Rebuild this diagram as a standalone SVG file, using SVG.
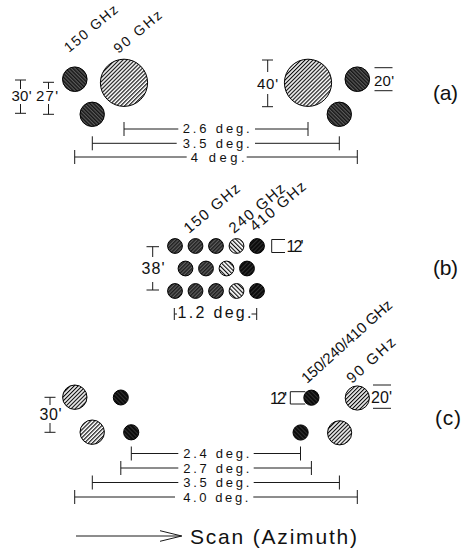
<svg xmlns="http://www.w3.org/2000/svg" width="464" height="552" viewBox="0 0 464 552">
<defs>
<pattern id="pLight" width="2.8" height="2.8" patternUnits="userSpaceOnUse" patternTransform="rotate(45)"><rect width="2.8" height="2.8" fill="#fff"/><line x1="0.6" y1="0" x2="0.6" y2="2.8" stroke="#000" stroke-width="1.1"/></pattern>
<pattern id="pLightB" width="3" height="3" patternUnits="userSpaceOnUse" patternTransform="rotate(-45)"><rect width="3" height="3" fill="#fff"/><line x1="0.6" y1="0" x2="0.6" y2="3" stroke="#000" stroke-width="1.1"/></pattern>
<pattern id="pDarkB" width="2.6" height="2.6" patternUnits="userSpaceOnUse" patternTransform="rotate(-45)"><rect width="2.6" height="2.6" fill="#5a5a5a"/><line x1="0.7" y1="0" x2="0.7" y2="2.6" stroke="#111" stroke-width="1.3"/></pattern>
<pattern id="pDark" width="2.6" height="2.6" patternUnits="userSpaceOnUse" patternTransform="rotate(45)"><rect width="2.6" height="2.6" fill="#5e5e5e"/><line x1="0.7" y1="0" x2="0.7" y2="2.6" stroke="#1a1a1a" stroke-width="1.3"/></pattern>
<pattern id="pBlack" width="3" height="3" patternUnits="userSpaceOnUse" patternTransform="rotate(45)"><rect width="3" height="3" fill="#0c0c0c"/><line x1="0.5" y1="0" x2="0.5" y2="3" stroke="#3a3a3a" stroke-width="0.8"/></pattern>
<pattern id="pBlackB" width="3" height="3" patternUnits="userSpaceOnUse" patternTransform="rotate(-45)"><rect width="3" height="3" fill="#0c0c0c"/><line x1="0.5" y1="0" x2="0.5" y2="3" stroke="#3a3a3a" stroke-width="0.8"/></pattern>
</defs>
<style>
text{font-family:"Liberation Sans",Arial,sans-serif;fill:#111}
.s{font-size:13px}
.r{font-size:15px}
.ra{font-size:14px}
.m{font-size:15px}
.b{font-size:16px}
.L{font-size:21px}
.ln{fill:none;stroke:#1a1a1a;stroke-width:1}
.c{stroke:#000;stroke-width:1}
</style>
<rect width="464" height="552" fill="#fff"/>

<!-- (a) -->
<g id="a-150-upper"><circle class="c" cx="74.8" cy="79.2" r="12.3" fill="url(#pDarkB)"/></g>
<g id="a-150-lower"><circle class="c" cx="92.2" cy="114.3" r="12.2" fill="url(#pDarkB)"/></g>
<g id="a-90-left"><circle class="c" cx="124" cy="82.8" r="23.6" fill="url(#pLight)"/></g>
<g id="a-90-right"><circle class="c" cx="308" cy="82.8" r="23.6" fill="url(#pLight)"/></g>
<g id="a-150r-upper"><circle class="c" cx="357.3" cy="79.2" r="12.3" fill="url(#pDarkB)"/></g>
<g id="a-150r-lower"><circle class="c" cx="339.3" cy="114.3" r="12.2" fill="url(#pDarkB)"/></g>
<g id="a-labels">
<text class="ra" transform="translate(69,53) rotate(-40)" textLength="65">150 GHz</text>
<text class="ra" transform="translate(118.5,54) rotate(-40)" textLength="58">90 GHz</text>
<text class="L" x="433" y="100" textLength="25">(a)</text>
</g>

<!-- (b) -->
<g id="b-row1">
<circle class="c" cx="175" cy="246" r="7.4" fill="url(#pDark)"/>
<circle class="c" cx="195.5" cy="246" r="7.4" fill="url(#pDark)"/>
<circle class="c" cx="216" cy="246" r="7.4" fill="url(#pDark)"/>
<circle class="c" cx="236.5" cy="246" r="7.4" fill="url(#pLightB)"/>
<circle class="c" cx="257" cy="246" r="7.4" fill="url(#pBlack)"/>
</g>
<g id="b-row2">
<circle class="c" cx="185.5" cy="268.5" r="7.4" fill="url(#pDark)"/>
<circle class="c" cx="206" cy="268.5" r="7.4" fill="url(#pDark)"/>
<circle class="c" cx="226.5" cy="268.5" r="7.4" fill="url(#pLightB)"/>
<circle class="c" cx="247" cy="268.5" r="7.4" fill="url(#pBlack)"/>
</g>
<g id="b-row3">
<circle class="c" cx="175" cy="291" r="7.4" fill="url(#pDark)"/>
<circle class="c" cx="195.5" cy="291" r="7.4" fill="url(#pDark)"/>
<circle class="c" cx="216" cy="291" r="7.4" fill="url(#pDark)"/>
<circle class="c" cx="236.5" cy="291" r="7.4" fill="url(#pLightB)"/>
<circle class="c" cx="257" cy="291" r="7.4" fill="url(#pBlack)"/>
</g>
<g id="b-labels">
<text class="r" transform="translate(189,234) rotate(-40)" textLength="68">150 GHz</text>
<text class="r" transform="translate(234,234) rotate(-40)" textLength="68">240 GHz</text>
<text class="r" transform="translate(255,232) rotate(-40)" textLength="68">410 GHz</text>
<text class="L" x="433" y="275" textLength="25">(b)</text>
</g>

<!-- (c) -->
<g id="c-90-upper-left"><circle class="c" cx="74.8" cy="397.2" r="12.2" fill="url(#pLight)"/></g>
<g id="c-90-lower-left"><circle class="c" cx="92.2" cy="432.2" r="12.2" fill="url(#pLight)"/></g>
<g id="c-hf-upper-left"><circle class="c" cx="120.8" cy="397.5" r="7.5" fill="url(#pBlackB)"/></g>
<g id="c-hf-lower-left"><circle class="c" cx="131.2" cy="432.3" r="7.6" fill="url(#pBlackB)"/></g>
<g id="c-hf-upper-right"><circle class="c" cx="311.4" cy="397.7" r="7.6" fill="url(#pBlackB)"/></g>
<g id="c-hf-lower-right"><circle class="c" cx="300.6" cy="432.5" r="7.6" fill="url(#pBlackB)"/></g>
<g id="c-90-upper-right"><circle class="c" cx="357.3" cy="398" r="12.1" fill="url(#pLight)"/></g>
<g id="c-90-lower-right"><circle class="c" cx="339.6" cy="432.8" r="12.1" fill="url(#pLight)"/></g>
<g id="c-labels">
<text class="r" transform="translate(307,384) rotate(-42)" textLength="116">150/240/410 GHz</text>
<text class="r" transform="translate(352,384) rotate(-42)" textLength="60">90 GHz</text>
<text class="L" x="435" y="424.5" textLength="26">(c)</text>
</g>

<!-- dimensions and connectors -->
<g id="connectors">
<!-- (a) vertical dims -->
<path class="ln" d="M15 80H26M20.5 80V89M20.5 104V113.3M15 113.3H26"/>
<text class="m" x="11.5" y="101" textLength="20">30'</text>
<path class="ln" d="M43 82.3H54M48.5 82.3V89M48.5 104V114.3M43 114.3H54"/>
<text class="m" x="36" y="101" textLength="22">27'</text>
<path class="ln" d="M262 60H273M267.7 60V72M267.7 94V106.7M262 106.7H273"/>
<text class="m" x="257" y="89" textLength="21">40'</text>
<path class="ln" d="M374.5 67.7H392.5M374.5 90.7H392.5"/>
<text class="m" x="374" y="86" textLength="20">20'</text>
<!-- (a) horizontal dims -->
<path class="ln" d="M124 122V136M124 129H178.3M255 129H308M308 122V136"/>
<text class="s" x="182.7" y="133.4" textLength="67">2.6 deg.</text>
<path class="ln" d="M92.3 136.3V150.3M92.3 143.3H176.7M255 143.3H339.3M339.3 136.3V150.3"/>
<text class="s" x="182.7" y="147.7" textLength="67">3.5 deg.</text>
<path class="ln" d="M74.7 150V164M74.7 157H186.7M246.7 157H357.3M357.3 150V164"/>
<text class="s" x="190.7" y="161.7" textLength="54">4 deg.</text>
<!-- (b) dims -->
<path class="ln" d="M146.5 246.7H159M152.7 246.7V257M152.7 282V290M146.5 290H159"/>
<text class="b" x="141.5" y="273.5" textLength="23">38'</text>
<path class="ln" d="M271.7 239.5H285M271.7 252.5H285M271.7 239.5V252.5"/>
<text class="b" x="286.5" y="251.7" textLength="17">12'</text>
<path class="ln" d="M174.3 308V320M174.3 314H177M251.5 314H256.7M256.7 308V320"/>
<text class="b" x="177.5" y="318.3" textLength="74">1.2 deg.</text>
<!-- (c) vertical dims -->
<path class="ln" d="M44.5 397.3H55.5M50 397.3V405M50 423V432.3M44.5 432.3H55.5"/>
<text class="b" x="39.5" y="420" textLength="22">30'</text>
<path class="ln" d="M290.3 391.7H305.3M290.3 404H305.3M290.3 391.7V404"/>
<text class="b" x="270" y="403.5" textLength="17">12'</text>
<path class="ln" d="M373 385H391M373 408.3H391"/>
<text class="b" x="371" y="403.3" textLength="21">20'</text>
<!-- (c) horizontal dims -->
<path class="ln" d="M131.3 446.5V460.5M131.3 453.5H178.3M253.7 453.5H300.5M300.5 446.5V460.5"/>
<text class="s" x="183.3" y="458" textLength="66">2.4 deg.</text>
<path class="ln" d="M120.8 461V475M120.8 468H178.3M253.7 468H311.4M311.4 461V475"/>
<text class="s" x="183.3" y="472.5" textLength="66">2.7 deg.</text>
<path class="ln" d="M92.3 475.5V489.5M92.3 482.5H178.3M253.7 482.5H339.4M339.4 475.5V489.5"/>
<text class="s" x="183.3" y="487" textLength="66">3.5 deg.</text>
<path class="ln" d="M74.7 490V504M74.7 497H175M253.3 497H357.3M357.3 490V504"/>
<text class="s" x="183.3" y="501.5" textLength="65">4.0 deg.</text>
<!-- scan arrow -->
<path class="ln" d="M76 536H181.7M160 530.7L181.7 536L160 541.3"/>
<text class="L" x="190" y="544" textLength="167">Scan (Azimuth)</text>
</g>
</svg>
